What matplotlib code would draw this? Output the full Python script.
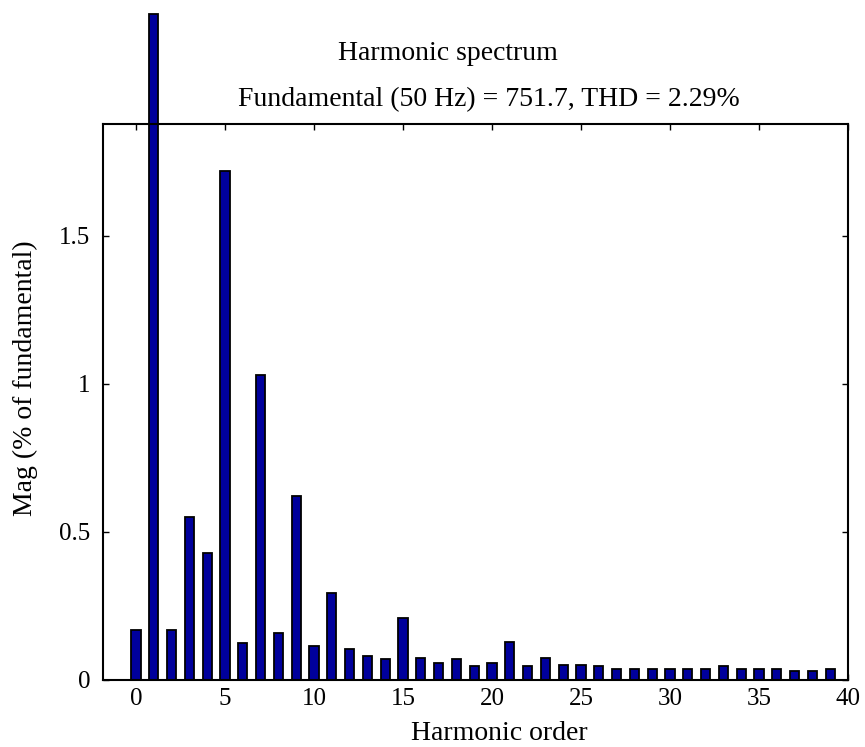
import numpy as np
import matplotlib.pyplot as plt

# ================= data =================
harmonic = np.arange(0, 40)
mag = [0.17, 2.25, 0.17, 0.55, 0.43, 1.72, 0.125, 1.03, 0.16, 0.62,
       0.115, 0.295, 0.105, 0.08, 0.07, 0.21, 0.075, 0.058, 0.07, 0.047,
       0.058, 0.128, 0.047, 0.075, 0.05, 0.05, 0.048, 0.037, 0.037, 0.037,
       0.037, 0.037, 0.037, 0.047, 0.037, 0.037, 0.037, 0.03, 0.03, 0.037]
xticks = [0, 5, 10, 15, 20, 25, 30, 35, 40]
yticks = [0, 0.5, 1, 1.5]
ytick_labels = ['0', '0.5', '1', '1.5']

title1 = 'Harmonic spectrum'
title2 = 'Fundamental (50 Hz) = 751.7, THD = 2.29%'

# ================= plot =================
plt.rcParams['font.family'] = ['Liberation Serif', 'DejaVu Serif']

W, H = 865, 747
fig = plt.figure(figsize=(W / 100, H / 100), dpi=100)
ax = fig.add_axes([103 / W, 1 - 680 / H, 745 / W, 556 / H])

bars = ax.bar(harmonic, mag, width=0.52, color='#00009C',
              edgecolor='black', linewidth=1.3, zorder=3)
for b in bars:
    b.set_clip_on(False)

ax.set_xlim(-1.85, 40)
ax.set_ylim(0, 1.878)
ax.set_xticks(xticks)
ax.set_yticks(yticks)
ax.set_yticklabels(ytick_labels)
ax.tick_params(direction='in', top=True, right=True, labelsize=18,
               length=4, width=1)
ax.tick_params(axis='x', pad=6)
ax.tick_params(axis='y', pad=9)

for s in ax.spines.values():
    s.set_linewidth(1.5)
    s.set_zorder(4)

# axis labels (placed by hand, like the original export)
fig.text(499 / W, 1 - 746 / H, 'Harmonic order', ha='center', va='bottom',
         fontsize=20)
fig.text(25 / W, 1 - 378 / H, 'Mag (% of fundamental)', ha='center',
         va='center', rotation=90, fontsize=20)

fig.text(448 / W, 1 - 53 / H, title1, ha='center', va='center', fontsize=20)
fig.text(489 / W, 1 - 100 / H, title2, ha='center', va='center', fontsize=20)

fig.savefig('out.png', dpi=100)
